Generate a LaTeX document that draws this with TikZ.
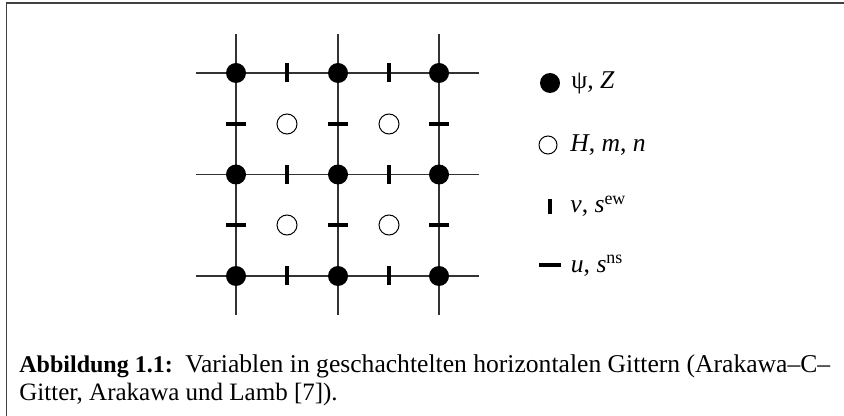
\documentclass[tikz,border=0pt]{standalone}
\usepackage{fontspec}
\setmainfont{Liberation Serif}
\begin{document}
\begin{tikzpicture}[x=0.5pt,y=-0.5pt,
  gridline/.style={line width=0.55pt,black!80},
  psidot/.style={circle,fill=black,inner sep=0pt,minimum size=10pt},
  hcirc/.style={circle,draw=black,line width=0.5pt,fill=white,inner sep=0pt,minimum size=10pt},
  vtick/.style={line width=1.6pt},
  frame/.style={line width=0.7pt,black!75},
  txt/.style={font=\fontsize{12.8}{15}\selectfont,inner sep=0pt}]
\useasboundingbox (0,0) rectangle (844,416);
% frame
\draw[frame] (6.5,416) -- (6.5,3) -- (844,3);
% grid lines
\foreach \x in {236,338,439} \draw[gridline] (\x,34) -- (\x,315);
\foreach \y in {73,174.5,276} \draw[gridline] (196,\y) -- (479,\y);
% psi dots
\foreach \x/\i in {236/1,338/2,439/3}
  \foreach \y/\j in {73/1,174.5/2,276/3}
    \node[psidot] (p\i\j) at (\x,\y) {};
% H circles
\foreach \x/\i in {287/1,389/2}
  \foreach \y/\j in {124/1,225/2}
    \node[hcirc] (h\i\j) at (\x,\y) {};
% v ticks (vertical) on horizontal lines
\foreach \x in {287,389}
  \foreach \y in {73,174.5,276}
    \draw[vtick] (\x,\y-9.5) -- (\x,\y+9.5);
% u ticks (horizontal) on vertical lines
\foreach \x in {236,338,439}
  \foreach \y in {124,225}
    \draw[vtick] (\x-10,\y) -- (\x+10,\y);
% legend
\node[psidot] (lpsi) at (550,83) {};
\node[txt,anchor=base west] (tpsi) at (571,89) {ψ, \textit{Z}};
\node[hcirc,minimum size=9pt] (lh) at (548,145) {};
\node[txt,anchor=base west] (th) at (570,151.5) {\textit{H}, \textit{m}, \textit{n}};
\coordinate (lv) at (550,207);
\draw[vtick] (lv) ++(0,-7.5) -- ++(0,15);
\node[txt,anchor=base west] (tv) at (570,213) {\textit{v}, \textit{s}\textsuperscript{ew}};
\coordinate (lu) at (550,265);
\draw[vtick] (lu) ++(-11,0) -- ++(22,0);
\node[txt,anchor=base west] (tu) at (570.5,272.5) {\textit{u}, \textit{s}\textsuperscript{ns}};
% caption
\node[txt,font=\fontsize{12}{14}\selectfont\bfseries,anchor=base west] (cap0) at (19,372) {Abbildung 1.1:};
\node[txt,anchor=base west] (cap1) at (185,372) {Variablen in geschachtelten horizontalen Gittern (Arakawa--C--};
\node[txt,font=\fontsize{12.5}{15}\selectfont,anchor=base west] (cap2) at (19,400) {Gitter, Arakawa und Lamb [7]).};
\end{tikzpicture}
\end{document}
